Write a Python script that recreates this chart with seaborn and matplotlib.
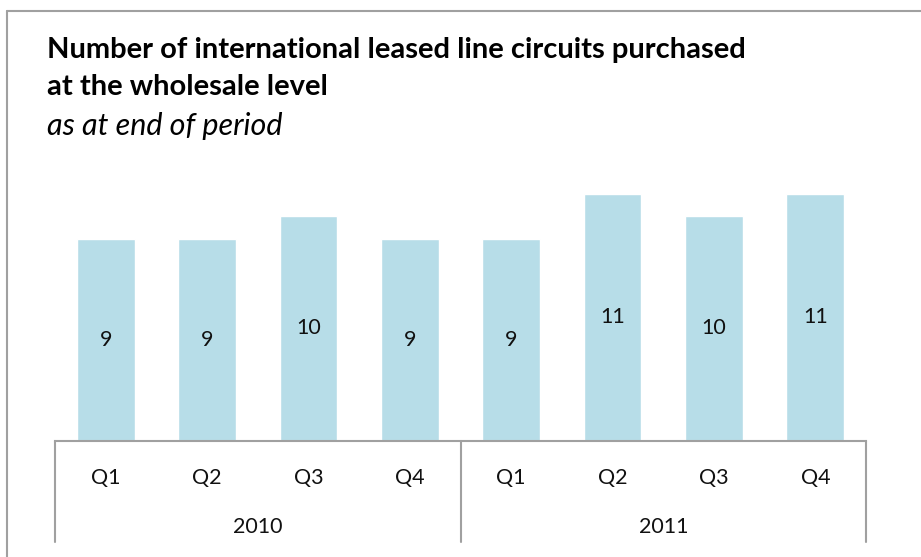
"""
Wholesale international leased line circuits, quarterly bar chart.
"""

import pandas as pd
import matplotlib
matplotlib.use("Agg")
import matplotlib.pyplot as plt
from matplotlib.lines import Line2D
import seaborn as sns

# Data
years = ["2010", "2011"]
quarters = ["Q1", "Q2", "Q3", "Q4"]
circuits = [9, 9, 10, 9, 9, 11, 10, 11]

BAR_COLOR = "#b7dde8"
LINE_COLOR = "#a0a0a0"
FONT = ["Lato", "DejaVu Sans"]

sns.set_style("white")
plt.rcParams["font.family"] = FONT

# Build long-form table, one row per quarter
keys = [f"{y} {q}" for y in years for q in quarters]
df = pd.DataFrame({"period": keys, "circuits": circuits})

fig = plt.figure(figsize=(9.21, 5.57), dpi=100)
ax = fig.add_axes([55 / 921, 1 - 441 / 557, 811 / 921, 270 / 557])

sns.barplot(data=df, x="period", y="circuits", order=keys, color=BAR_COLOR,
            width=0.57, saturation=1, ax=ax)

# Value labels inside bars
for container in ax.containers:
    ax.bar_label(container, label_type="center", fontsize=15.5, color="#111111")

ax.set_xlim(-0.5, len(keys) - 0.5)
ax.set_ylim(0, 12)
ax.set_xlabel("")
ax.set_ylabel("")
ax.set_yticks([])
ax.set_xticks([])
for side in ["top", "right", "left"]:
    ax.spines[side].set_visible(False)
ax.spines["bottom"].set_color(LINE_COLOR)
ax.spines["bottom"].set_linewidth(1.5)

# Two-level category axis
trans = ax.get_xaxis_transform()
px = 1 / 270  # one pixel in axes-y units
for i, key in enumerate(keys):
    ax.text(i, -37 * px, key.split()[1], transform=trans, ha="center",
            va="center", fontsize=15.5, color="#111111")
for j, year in enumerate(years):
    mid = j * len(quarters) + (len(quarters) - 1) / 2
    ax.text(mid, -86 * px, year, transform=trans, ha="center", va="center",
            fontsize=15.5, color="#111111")
for xpos in range(0, len(keys) + 1, len(quarters)):
    ax.plot([xpos - 0.5, xpos - 0.5], [0, -101 * px], transform=trans,
            color=LINE_COLOR, lw=1.5, clip_on=False)

# Titles
fig.text(47 / 921, 1 - 50 / 557, "Number of international leased line circuits purchased",
         fontsize=21, fontweight="bold", ha="left", va="center", color="#000000")
fig.text(47 / 921, 1 - 87 / 557, "at the wholesale level",
         fontsize=21, fontweight="bold", ha="left", va="center", color="#000000")
fig.text(47 / 921, 1 - 126 / 557, "as at end of period",
         fontsize=22, fontstyle="italic", ha="left", va="center", color="#000000")

# Outer frame (left and top edges only visible)
fig.add_artist(Line2D([7 / 921, 7 / 921], [0, 1 - 11 / 557], color=LINE_COLOR,
                      lw=1.5, transform=fig.transFigure))
fig.add_artist(Line2D([7 / 921, 1], [1 - 11 / 557, 1 - 11 / 557], color=LINE_COLOR,
                      lw=1.5, transform=fig.transFigure))

fig.savefig("out.png", dpi=100)
